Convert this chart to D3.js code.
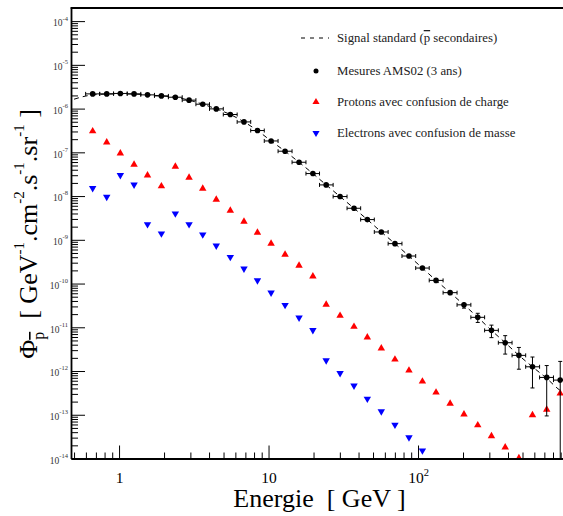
<!DOCTYPE html>
<html><head><meta charset="utf-8">
<script src="https://cdn.jsdelivr.net/npm/d3@7"></script>
<style>
body{margin:0;background:#fff;} svg{display:block;}
svg text, svg tspan { font-family: "Liberation Serif", "Times New Roman", Times, serif; }
</style>
</head><body>
<svg id="c" width="563" height="516"></svg>
<script>
// ---------------- DATA ----------------
const energies = [0.666, 0.827, 1.02, 1.26, 1.55, 1.92, 2.38, 2.94, 3.63, 4.47, 5.55, 6.85, 8.43, 10.4, 12.9, 16.0, 19.8, 24.3, 30.1, 37.3, 45.8, 56.8, 70.1, 87.0, 107, 132, 164, 203, 251, 310, 383, 473, 583, 726, 894];
const amsFlux = [2.17e-6, 2.17e-6, 2.22e-6, 2.17e-6, 2.06e-6, 1.95e-6, 1.82e-6, 1.56e-6, 1.26e-6, 9.85e-7, 7.33e-7, 4.96e-7, 3.15e-7, 1.82e-7, 1.06e-7, 5.93e-8, 3.27e-8, 1.80e-8, 9.75e-9, 5.26e-9, 2.90e-9, 1.51e-9, 8.18e-10, 4.26e-10, 2.26e-10, 1.18e-10, 6.19e-11, 3.26e-11, 1.69e-11, 8.50e-12, 4.44e-12, 2.28e-12, 1.25e-12, 7.14e-13, 6.20e-13];
const amsErr = [5e-8, 4e-8, 4e-8, 4e-8, 4e-8, 4e-8, 3.5e-8, 3e-8, 2.5e-8, 2e-8, 1.5e-8, 1e-8, 6e-9, 4e-9, 2e-9, 1.2e-9, 7e-10, 4e-10, 2.2e-10, 1.3e-10, 8e-11, 5e-11, 3e-11, 2e-11, 1.3e-11, 1e-11, 7e-12, 5.2e-12, 4e-12, 2.7e-12, 2e-12, 1.18e-12, 8.4e-13, 6.2e-13, 1.04e-12];
const modelEnergies = [0.5, 0.6, 0.666, 0.827, 1.02, 1.26, 1.55, 1.92, 2.38, 2.94, 3.63, 4.47, 5.55, 6.85, 8.43, 10.4, 12.9, 16.0, 19.8, 24.3, 30.1, 37.3, 45.8, 56.8, 70.1, 87.0, 107, 132, 164, 203, 251, 310, 383, 473, 583, 726, 894, 1000];
const modelFlux = [1.64e-6, 1.94e-6, 2.05e-6, 2.15e-6, 2.18e-6, 2.15e-6, 2.06e-6, 1.95e-6, 1.82e-6, 1.56e-6, 1.26e-6, 9.85e-7, 7.33e-7, 4.96e-7, 3.15e-7, 1.82e-7, 1.06e-7, 5.93e-8, 3.27e-8, 1.80e-8, 9.75e-9, 5.26e-9, 2.90e-9, 1.51e-9, 8.18e-10, 4.26e-10, 2.26e-10, 1.18e-10, 6.19e-11, 3.26e-11, 1.69e-11, 8.50e-12, 4.44e-12, 2.28e-12, 1.25e-12, 6.78e-13, 3.6e-13, 2.92e-13];
const protonFlux = [3.04e-7, 1.70e-7, 9.53e-8, 5.26e-8, 2.99e-8, 1.68e-8, 4.73e-8, 2.65e-8, 1.49e-8, 8.32e-9, 4.66e-9, 2.61e-9, 1.46e-9, 8.18e-10, 4.61e-10, 2.58e-10, 1.46e-10, 3.29e-11, 1.84e-11, 1.03e-11, 5.87e-12, 3.29e-12, 1.84e-12, 1.03e-12, 5.78e-13, 3.24e-13, 1.81e-13, 1.02e-13, 5.78e-14, 3.24e-14, 1.81e-14, 1.02e-14, 9.79e-14, 1.32e-13, 3.07e-13];
const electronEnergies = [0.666, 0.827, 1.02, 1.26, 1.55, 1.92, 2.38, 2.94, 3.63, 4.47, 5.55, 6.85, 8.43, 10.4, 12.9, 16.0, 19.8, 24.3, 30.1, 37.3, 45.8, 56.8, 70.1, 87.0, 107];
const electronFlux = [1.51e-8, 9.53e-9, 2.99e-8, 1.83e-8, 2.26e-9, 1.39e-9, 3.98e-9, 2.26e-9, 1.32e-9, 7.36e-10, 4.04e-10, 2.19e-10, 1.18e-10, 6.19e-11, 3.22e-11, 1.66e-11, 8.63e-12, 1.75e-12, 8.95e-13, 4.61e-13, 2.32e-13, 1.19e-13, 5.90e-14, 3.03e-14, 1.52e-14];
const xTickValues = [1, 10, 100];
const xTickLabels = [["1", ""], ["10", ""], ["10", "2"]];
const yTickExponents = [-4, -5, -6, -7, -8, -9, -10, -11, -12, -13, -14];
const legendLabels = ["Signal standard (", "Mesures AMS02 (3 ans)", "Protons avec confusion de charge", "Electrons avec confusion de masse"];

// ---------------- CHART ----------------
const svg = d3.select("#c");
const L = 71, T = 8, B = 458.5;
const x = d3.scaleLog().domain([0.477, 1000]).range([L, 567.5]);
const y = d3.scaleLog().domain([1e-14, Math.pow(10, -3.7)]).range([B, T]);
const serif = "Liberation Serif";

svg.append("rect").attr("width", 563).attr("height", 516).attr("fill", "#fff");
svg.append("defs").append("clipPath").attr("id", "clip")
  .append("rect").attr("x", L).attr("y", T).attr("width", 520).attr("height", B - T);
const plot = svg.append("g").attr("clip-path", "url(#clip)");

// model line
const line = d3.line().x(d => x(d[0])).y(d => y(d[1])).curve(d3.curveMonotoneX);
plot.append("path").datum(modelEnergies.map((e, i) => [e, modelFlux[i]]))
  .attr("d", line).attr("fill", "none").attr("stroke", "#000")
  .attr("stroke-width", 1).attr("stroke-dasharray", "5,4");

// triangles
const tri = d3.symbol().type(d3.symbolTriangle).size(24);
plot.append("g").selectAll("path").data(energies.map((e, i) => [e, protonFlux[i]])).join("path")
  .attr("d", tri).attr("transform", d => `translate(${x(d[0])},${y(d[1])})`).attr("fill", "#ff0000");
plot.append("g").selectAll("path").data(electronEnergies.map((e, i) => [e, electronFlux[i]])).join("path")
  .attr("d", tri).attr("transform", d => `translate(${x(d[0])},${y(d[1])}) rotate(180)`).attr("fill", "#0000ff");

// AMS points with error bars
const edges = energies.map((e, i) => {
  const prev = i > 0 ? energies[i - 1] : e * e / energies[i + 1];
  const next = i < energies.length - 1 ? energies[i + 1] : e * e / energies[i - 1];
  return [Math.sqrt(prev * e), Math.sqrt(e * next)];
});
const eg = plot.append("g").attr("stroke", "#000").attr("stroke-width", 1);
energies.forEach((e, i) => {
  const cx = x(e), cy = y(amsFlux[i]);
  const x0 = x(edges[i][0]), x1 = x(edges[i][1]);
  const up = y(amsFlux[i] + amsErr[i]);
  const low = amsFlux[i] - amsErr[i] > y.domain()[0] ? y(amsFlux[i] - amsErr[i]) : B + 5;
  eg.append("line").attr("x1", x0).attr("x2", x1).attr("y1", cy).attr("y2", cy);
  eg.append("line").attr("x1", x0).attr("x2", x0).attr("y1", cy - 2).attr("y2", cy + 2);
  eg.append("line").attr("x1", x1).attr("x2", x1).attr("y1", cy - 2).attr("y2", cy + 2);
  eg.append("line").attr("x1", cx).attr("x2", cx).attr("y1", up).attr("y2", low);
  if (cy - up > 3) eg.append("line").attr("x1", cx - 2).attr("x2", cx + 2).attr("y1", up).attr("y2", up);
  if (low - cy > 3 && low < B) eg.append("line").attr("x1", cx - 2).attr("x2", cx + 2).attr("y1", low).attr("y2", low);
});
plot.append("g").selectAll("circle").data(energies.map((e, i) => [e, amsFlux[i]])).join("circle")
  .attr("cx", d => x(d[0])).attr("cy", d => y(d[1])).attr("r", 2.8).attr("fill", "#000");

// ---------------- AXES ----------------
const yMinor = [];
for (let p = -14; p <= -4; p++) for (let m = 2; m <= 9; m++) { const v = m * Math.pow(10, p); if (v < y.domain()[1]) yMinor.push(v); }
const xMinor = [];
for (let p = -1; p <= 2; p++) for (let m = 2; m <= 9; m++) { const v = m * Math.pow(10, p); if (v > x.domain()[0] && v < x.domain()[1]) xMinor.push(v); }

const gyMinor = svg.append("g").attr("transform", `translate(${L},0)`)
  .call(d3.axisLeft(y).tickValues(yMinor).tickSizeInner(-7).tickSizeOuter(0).tickFormat(""));
gyMinor.select(".domain").remove();
const gxMinor = svg.append("g").attr("transform", `translate(0,${B})`)
  .call(d3.axisBottom(x).tickValues(xMinor).tickSizeInner(-6).tickSizeOuter(0).tickFormat(""));
gxMinor.select(".domain").remove();

const gy = svg.append("g").attr("transform", `translate(${L},0)`)
  .call(d3.axisLeft(y).tickValues(yTickExponents.map(p => Math.pow(10, p))).tickSizeInner(-14).tickSizeOuter(0).tickPadding(3).tickFormat(""));
gy.attr("font-family", serif);
gy.selectAll("text").each(function (d) {
  const t = d3.select(this).attr("font-size", 9.5).attr("fill", "#333").attr("dy", "0.5em");
  t.append("tspan").text("10");
  t.append("tspan").attr("font-size", 6.5).attr("dy", "-0.9em").text(String(Math.round(Math.log10(d))));
});
gy.select(".domain").attr("stroke-width", 1.8);

const gx = svg.append("g").attr("transform", `translate(0,${B})`)
  .call(d3.axisBottom(x).tickValues(xTickValues).tickSizeInner(-13).tickSizeOuter(0).tickPadding(13).tickFormat(""));
gx.attr("font-family", serif);
gx.selectAll("text").each(function (d, i) {
  const t = d3.select(this).attr("font-size", 15.5).attr("fill", "#000");
  t.append("tspan").text(xTickLabels[i][0]);
  if (xTickLabels[i][1]) t.append("tspan").attr("font-size", 10.5).attr("dy", "-0.6em").text(xTickLabels[i][1]);
});
gx.select(".domain").attr("stroke-width", 1.8);
svg.selectAll(".tick line").attr("stroke", "#000");

// top frame line
svg.append("line").attr("x1", L - 0.5).attr("x2", 563).attr("y1", T).attr("y2", T).attr("stroke", "#000").attr("stroke-width", 1.8);

// ---------------- TITLES ----------------
svg.append("text").attr("x", 319.5).attr("y", 507).attr("text-anchor", "middle")
  .attr("font-family", serif).attr("font-size", 26).style("white-space", "pre")
  .text("Energie  [ GeV ]");

const yt = svg.append("text").attr("transform", "translate(37,234) rotate(-90)")
  .attr("text-anchor", "middle").attr("font-family", serif).attr("font-size", 26).style("white-space", "pre");
yt.append("tspan").text("Φ");
yt.append("tspan").attr("font-size", 16).attr("dy", 7).style("text-decoration", "overline").text("p");
yt.append("tspan").attr("dy", -7).text("  [ GeV");
yt.append("tspan").attr("font-size", 15).attr("dy", -13).text("-1");
yt.append("tspan").attr("dy", 13).text(".cm");
yt.append("tspan").attr("font-size", 15).attr("dy", -13).text("-2");
yt.append("tspan").attr("dy", 13).text(".s");
yt.append("tspan").attr("font-size", 15).attr("dy", -13).text("-1");
yt.append("tspan").attr("dy", 13).text(".sr");
yt.append("tspan").attr("font-size", 15).attr("dy", -13).text("-1");
yt.append("tspan").attr("dy", 13).text(" ]");

// ---------------- LEGEND ----------------
const legY = [38, 71, 102, 133];
const lg = svg.append("g").attr("font-family", serif).attr("font-size", 12.8).attr("fill", "#222");
lg.append("line").attr("x1", 301).attr("x2", 329).attr("y1", legY[0]).attr("y2", legY[0])
  .attr("stroke", "#000").attr("stroke-width", 1).attr("stroke-dasharray", "4,5");
lg.append("circle").attr("cx", 316).attr("cy", legY[1]).attr("r", 2.5).attr("fill", "#000");
lg.append("path").attr("d", d3.symbol().type(d3.symbolTriangle).size(22)).attr("transform", `translate(316,${legY[2]})`).attr("fill", "#ff0000");
lg.append("path").attr("d", d3.symbol().type(d3.symbolTriangle).size(22)).attr("transform", `translate(316,${legY[3]}) rotate(180)`).attr("fill", "#0000ff");
legendLabels.forEach((s, i) => {
  const t = lg.append("text").attr("x", 337).attr("y", legY[i] + 4);
  t.append("tspan").text(s);
  if (i === 0) {
    t.append("tspan").style("text-decoration", "overline").text("p");
    t.append("tspan").text(" secondaires)");
  }
});
</script>
</body></html>
